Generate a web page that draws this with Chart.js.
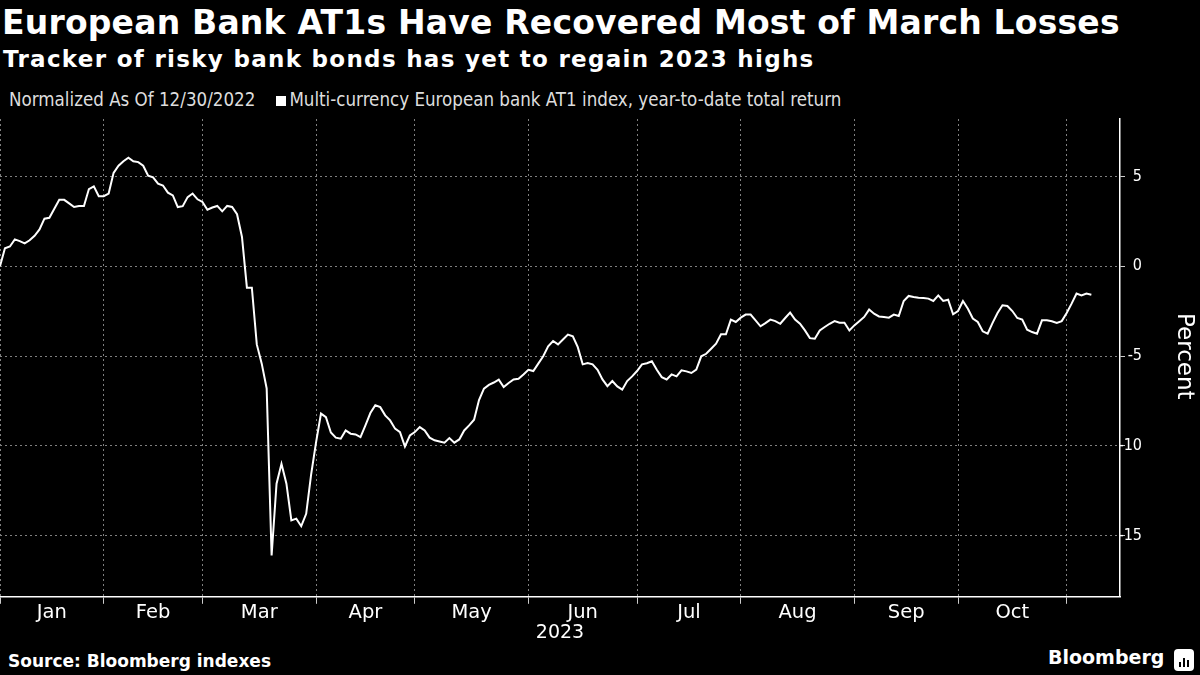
<!DOCTYPE html>
<html>
<head>
<meta charset="utf-8">
<script src="https://cdn.jsdelivr.net/npm/chart.js@4.4.0/dist/chart.umd.min.js"></script>
<style>
  html, body { margin: 0; padding: 0; background: #000; }
  body { width: 1200px; height: 675px; position: relative; overflow: hidden; color: #fff; }
  .cond { font-family: 'DejaVu Sans Condensed', 'DejaVu Sans', sans-serif; }
  #title { position: absolute; left: 2px; top: 3px; font: bold 33px 'DejaVu Sans', sans-serif; letter-spacing: 0.2px; white-space: nowrap; }
  #subtitle { position: absolute; left: 3px; top: 46px; font: bold 23px 'DejaVu Sans', sans-serif; letter-spacing: 1.3px; white-space: nowrap; }
  #legend { position: absolute; left: 9px; top: 89px; font-size: 18.6px; color: #ddd; white-space: nowrap; }
  #legend .sw { display: inline-block; width: 10px; height: 10px; background: #fff; margin: 0 3px 0 21px; }
  #chartBox { position: absolute; left: 0; top: 109px; width: 1200px; height: 535px; }
  #percent { position: absolute; left: 1143px; top: 343px; width: 86px; text-align: center; transform: rotate(90deg); font: 23px 'DejaVu Sans', sans-serif; white-space: nowrap; }
  #source { position: absolute; left: 8px; top: 651px; font: bold 17px 'DejaVu Sans', sans-serif; white-space: nowrap; }
  #brand { position: absolute; left: 1048px; top: 646px; font: bold 19px 'DejaVu Sans', sans-serif; white-space: nowrap; }
  #logo { position: absolute; left: 1174px; top: 649px; width: 20px; height: 22px; background: #fff; border-radius: 4px; }
  #logo i { position: absolute; bottom: 4px; width: 2px; background: #000; }
</style>
</head>
<body>
<div id="title">European Bank AT1s Have Recovered Most of March Losses</div>
<div id="subtitle">Tracker of risky bank bonds has yet to regain 2023 highs</div>
<div id="legend" class="cond">Normalized As Of 12/30/2022<span class="sw"></span>Multi-currency European bank AT1 index, year-to-date total return</div>
<div id="chartBox"><canvas id="at1-chart"></canvas></div>
<div id="percent">Percent</div>
<div id="source">Source: Bloomberg indexes</div>
<div id="brand">Bloomberg</div>
<div id="logo"><i style="left:5px;height:5px"></i><i style="left:9px;height:9px"></i><i style="left:13px;height:7px"></i></div>
<script>
// Trading-day index of the first session of each month (Jan..Nov 2023)
const monthStarts = [0, 21, 41, 64, 84, 107, 129, 150, 173, 194, 216];
const monthLabels = ['Jan', 'Feb', 'Mar', 'Apr', 'May', 'Jun', 'Jul', 'Aug', 'Sep', 'Oct'];
const yTicks = [-15, -10, -5, 0, 5];

// Year-to-date total return (%), one value per trading day from 12/30/2022
const returns = [
  0, 1.0, 1.1, 1.5, 1.4, 1.28, 1.45, 1.7, 2.05, 2.65,
  2.7, 3.2, 3.7, 3.7, 3.5, 3.3, 3.35, 3.35, 4.3, 4.45,
  3.9, 3.9, 4.05, 5.2, 5.6, 5.85, 6.05, 5.85, 5.8, 5.6,
  5.05, 4.95, 4.6, 4.5, 4.1, 3.95, 3.3, 3.35, 3.85, 4.05,
  3.73, 3.58, 3.15, 3.27, 3.36, 3.06, 3.36, 3.3, 2.9, 1.63,
  -1.19, -1.19, -4.35, -5.42, -6.8, -16.1, -12.1, -11.0, -12.1, -14.15,
  -14.05, -14.47, -13.78, -11.6, -9.8, -8.2, -8.4, -9.25, -9.54, -9.6,
  -9.14, -9.32, -9.36, -9.51, -8.86, -8.17, -7.74, -7.84, -8.3, -8.58,
  -9.04, -9.23, -10.03, -9.42, -9.23, -8.95, -9.14, -9.54, -9.69, -9.75,
  -9.82, -9.56, -9.82, -9.64, -9.14, -8.86, -8.54, -7.45, -6.81, -6.6,
  -6.47, -6.31, -6.72, -6.5, -6.3, -6.26, -6.02, -5.76, -5.83, -5.42,
  -5.01, -4.46, -4.16, -4.35, -4.08, -3.8, -3.9, -4.5, -5.46, -5.39,
  -5.46, -5.76, -6.3, -6.67, -6.39, -6.69, -6.87, -6.39, -6.13, -5.83,
  -5.46, -5.4, -5.29, -5.76, -6.17, -6.3, -6.02, -6.13, -5.79, -5.85,
  -5.94, -5.75, -5.01, -4.87, -4.59, -4.31, -3.79, -3.79, -2.97, -3.1,
  -2.86, -2.69, -2.69, -3.01, -3.34, -3.16, -2.97, -3.05, -3.2, -2.88,
  -2.58, -2.97, -3.2, -3.57, -4.0, -4.03, -3.57, -3.38, -3.2, -3.05,
  -3.14, -3.14, -3.57, -3.29, -3.06, -2.82, -2.41, -2.64, -2.79, -2.82,
  -2.86, -2.69, -2.77, -1.93, -1.65, -1.71, -1.75, -1.76, -1.8, -1.93,
  -1.62, -1.93, -1.86, -2.67, -2.49, -1.93, -2.36, -2.91, -3.1, -3.62,
  -3.75, -3.15, -2.6, -2.17, -2.21, -2.49, -2.88, -2.97, -3.53, -3.66,
  -3.75, -3.01, -3.01, -3.06, -3.16, -3.05, -2.6, -2.08, -1.52, -1.62,
  -1.52, -1.58
];

document.addEventListener('DOMContentLoaded', function() {
  const ctx = document.getElementById('at1-chart');
  const condFont = "'DejaVu Sans Condensed', 'DejaVu Sans', sans-serif";

  Chart.defaults.color = '#ffffff';
  Chart.defaults.font.family = "'DejaVu Sans', sans-serif";

  // labels sit halfway between the month boundaries
  const monthMids = monthLabels.map((m, i) => (monthStarts[i] + monthStarts[i + 1]) / 2);
  const isBoundary = v => monthStarts.indexOf(v) !== -1;

  // right-aligned value labels next to the right axis, placed by the y scale
  const yLabelPlugin = {
    id: 'yLabels',
    afterDraw(chart) {
      const s = chart.scales.y;
      const c = chart.ctx;
      c.save();
      c.font = '16px ' + condFont;
      c.fillStyle = '#ffffff';
      c.textAlign = 'right';
      c.textBaseline = 'middle';
      yTicks.forEach(v => c.fillText(String(v), s.left + 22, s.getPixelForValue(v)));
      c.restore();
    }
  };

  new Chart(ctx, {
    type: 'line',
    data: {
      datasets: [{
        label: 'Multi-currency European bank AT1 index, year-to-date total return',
        data: returns.map((v, i) => ({ x: i, y: v })),
        borderColor: '#ffffff',
        borderWidth: 2,
        pointRadius: 0,
        tension: 0,
        fill: false
      }]
    },
    plugins: [yLabelPlugin],
    options: {
      responsive: true,
      maintainAspectRatio: false,
      animation: false,
      layout: {
        padding: { top: 10, right: 75, left: 0, bottom: 0 }
      },
      plugins: {
        legend: { display: false },
        tooltip: { enabled: false }
      },
      scales: {
        x: {
          type: 'linear',
          min: 0,
          max: 226.8,
          afterBuildTicks: function(axis) {
            axis.ticks = monthStarts.concat(monthMids).sort((a, b) => a - b).map(v => ({ value: v }));
          },
          border: { display: true, color: '#ffffff', width: 1.5, dash: [2, 3] },
          grid: {
            color: c => (c.tick && isBoundary(c.tick.value)) ? '#808080' : 'transparent',
            tickColor: c => (c.tick && isBoundary(c.tick.value)) ? '#cccccc' : 'transparent',
            tickBorderDash: [],
            tickLength: 7,
            lineWidth: 1
          },
          ticks: {
            autoSkip: false,
            maxRotation: 0,
            padding: -3,
            font: { size: 19.5 },
            color: '#ffffff',
            callback: function(value) {
              const i = monthMids.indexOf(value);
              return i === -1 ? '' : monthLabels[i];
            }
          },
          title: {
            display: true,
            text: '2023',
            color: '#ffffff',
            font: { size: 19 },
            padding: { top: 0, bottom: 0 }
          }
        },
        y: {
          position: 'right',
          min: -18.4,
          max: 8.2,
          afterBuildTicks: function(axis) {
            axis.ticks = yTicks.map(v => ({ value: v }));
          },
          border: { display: true, color: '#ffffff', width: 1.5, dash: [2, 3] },
          grid: {
            color: '#808080',
            tickColor: '#cccccc',
            tickBorderDash: [],
            tickLength: 5
          },
          ticks: { display: false }
        }
      }
    }
  });
});
</script>
</body>
</html>
